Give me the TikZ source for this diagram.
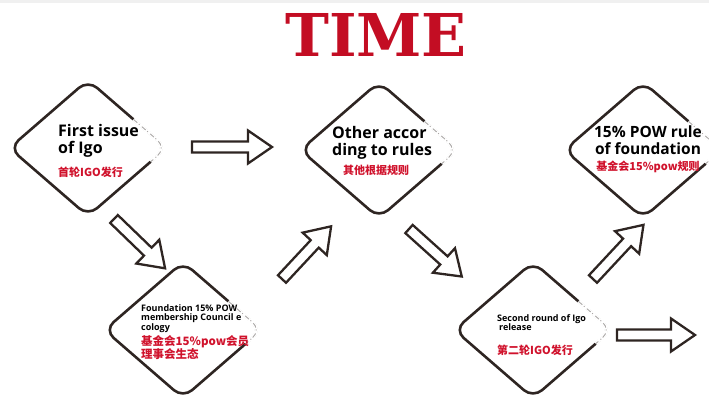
\documentclass[tikz,border=0pt]{standalone}
\usepackage{fontspec}
\setmainfont{Open Sans}
\newfontfamily\titlefont{DejaVu Serif}
\newfontfamily\cjk{Noto Sans CJK SC}
\usetikzlibrary{shapes.geometric,calc}
\definecolor{ink}{HTML}{2E2522}
\definecolor{redt}{HTML}{D0122C}
\definecolor{titler}{HTML}{C30D23}
\begin{document}
\begin{tikzpicture}[x=1pt,y=-1pt,
  dia/.style={diamond, draw=ink, line width=2.6pt, minimum width=157pt, minimum height=136pt, inner sep=0pt, outer sep=0pt, rounded corners=12pt},
  erase/.style={draw=white, line width=3.6pt, rounded corners=12pt},
  faded/.style={draw=ink!40, line width=0.9pt, rounded corners=12pt, dash pattern=on 5pt off 2pt on 1pt off 3pt},
  entext/.style={font=\bfseries\fontsize{16}{17}\selectfont, text=black, inner sep=0pt, align=left},
  smalltext/.style={font=\bfseries\fontsize{9}{9.6}\selectfont, text=black, inner sep=0pt, align=left},
  cntext/.style={font=\cjk\bfseries\fontsize{11}{13}\selectfont, text=redt, inner sep=0pt, align=left},
  arrowline/.style={draw=ink, line width=2.3pt, line join=miter},
  pics/barrow/.style={code={
    \draw[arrowline] (0,-5.5) -- ({#1-24},-5.5) -- ({#1-24},-16.5) -- (#1,0) -- ({#1-24},16.5) -- ({#1-24},5.5) -- (0,5.5) -- cycle;}}
]
\useasboundingbox (0,0) rectangle (709,394);
\clip (0,0) rectangle (709,394);
\fill[black!6] (0,0) rectangle (709,3);

\node[font=\titlefont\bfseries\fontsize{59}{59}\selectfont, text=titler, inner sep=0pt] (title) at (376,35) {TIME};

% diamonds
\node[dia] (d1) at (88,148) {};
\node[dia] (d2) at (183,330) {};
\node[dia] (d3) at (379,150) {};
\node[dia] (d4) at (533,330) {};
\node[dia] (d5) at (643,150) {};

% sketchy fading near the right corners
\foreach \d in {d1,d2,d3,d4,d5}{
  \draw[erase] ($(\d.east)!0.42!(\d.north)$) -- (\d.east) -- ($(\d.east)!0.2!(\d.south)$);
  \draw[faded] ($(\d.east)!0.42!(\d.north)$) -- (\d.east) -- ($(\d.east)!0.2!(\d.south)$);
}

% texts
\node[entext, anchor=north west] (t1) at (58,124) {First issue\\of Igo};
\node[cntext, anchor=west] (c1) at (58,172) {首轮IGO发行};

\node[entext, anchor=north west] (t3) at (332,126) {Other accor\\ding to rules};
\node[cntext, anchor=west] (c3) at (343,170) {其他根据规则};

\node[entext, font=\bfseries\fontsize{15.5}{16.5}\selectfont, anchor=north, align=center] (t5) at (648,126) {15\% POW rule\\of foundation};
\node[cntext, anchor=center] (c5) at (648,167) {基金会15\%pow规则};

\node[smalltext, anchor=north west] (t2) at (141,304) {Foundation 15\% POW\\membership Council e\\cology};
\node[cntext, font=\cjk\bfseries\fontsize{11.5}{13}\selectfont, anchor=north west] (c2) at (141,335) {基金会15\%pow会员\\理事会生态};

\node[smalltext, anchor=north west] (t4) at (497,314) {Second round of Igo\\\hspace{2pt}release};
\node[cntext, anchor=west] (c4) at (497,350) {第二轮IGO发行};

% hollow arrows
\pic[rotate=0] at (192,147) {barrow=80};
\pic[rotate=-44] at (114,219) {barrow=71};
\pic[rotate=47] at (282,279) {barrow=72};
\pic[rotate=-42] at (409,229) {barrow=71};
\pic[rotate=47] at (593,279) {barrow=74};
\pic[rotate=0] at (617,335) {barrow=78};
\end{tikzpicture}
\end{document}
